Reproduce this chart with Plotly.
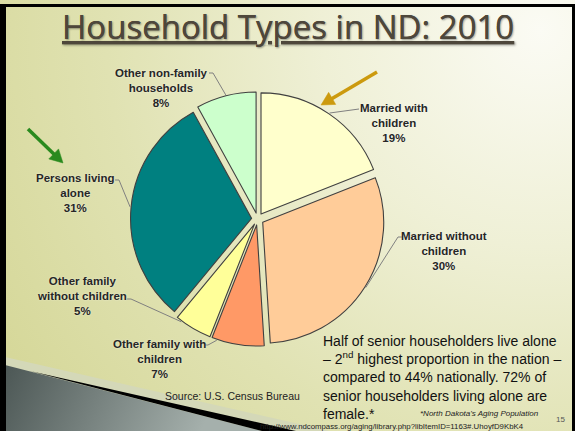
import base64
import math
import plotly.graph_objects as go

# ---------------- data ----------------
categories = ["Married with children", "Married without children", "Other family with children",
              "Other family without children", "Persons living alone", "Other non-family households"]
label_lines = [["Married with", "children"], ["Married without", "children"],
               ["Other family with", "children"], ["Other family", "without children"],
               ["Persons living", "alone"], ["Other non-family", "households"]]
values = [19, 30, 7, 5, 31, 8]
colors = ["#FFFFCC", "#FFCC99", "#FF9966", "#FFFF99", "#008080", "#CCFFCC"]
pull = 0.05

W, H = 575, 431

# ---------------- background (gradient slide + swoosh + border) ----------------
svg = """<svg xmlns="http://www.w3.org/2000/svg" width="575" height="431" viewBox="0 0 575 431">
<defs>
<radialGradient id="bg" gradientUnits="userSpaceOnUse" cx="540" cy="30" r="620">
<stop offset="0" stop-color="#FBFBF4"/>
<stop offset="0.35" stop-color="#EFF0D6"/>
<stop offset="0.7" stop-color="#E0E2B2"/>
<stop offset="1" stop-color="#D6D89A"/>
</radialGradient>
<linearGradient id="sw" gradientUnits="userSpaceOnUse" x1="0" y1="365" x2="190" y2="455">
<stop offset="0" stop-color="#4A5553"/>
<stop offset="1" stop-color="#A5B0AC"/>
</linearGradient>
</defs>
<rect width="575" height="431" fill="url(#bg)"/>
<polygon points="5,357 330,431 5,431" fill="#D4D8B8"/>
<polygon points="5,365 262,431 5,431" fill="url(#sw)"/>
<polygon points="30,371 296,431 262,431" fill="#000000"/>
<rect x="0" y="4" width="6" height="427" fill="#000000"/>
<rect x="0" y="4" width="575" height="3" fill="#000000"/>
<rect x="572" y="4" width="3" height="427" fill="#000000"/>
</svg>"""
bg_uri = "data:image/svg+xml;base64," + base64.b64encode(svg.encode()).decode()

# ---------------- pie geometry (mirrors plotly's own layout) ----------------
dom_x = [0.227, 0.669]
dom_y = [0.197, 0.787]
rx = W * (dom_x[1] - dom_x[0]) / 2
ry = H * (dom_y[1] - dom_y[0]) / 2
r = min(rx, ry) / (1 + pull)
cx = W * (dom_x[0] + dom_x[1]) / 2
cy = H * (1 - dom_y[0]) - ry
total = sum(values)


def px(x, y):
    return x / W, 1 - y / H


def slice_point(i, frac):
    a0 = sum(values[:i]) / total * 2 * math.pi
    a1 = sum(values[:i + 1]) / total * 2 * math.pi
    mid = (a0 + a1) / 2
    th = a0 + frac * (a1 - a0)
    ox, oy = pull * r * math.sin(mid), -pull * r * math.cos(mid)
    return cx + ox + (r + 1) * math.sin(th), cy + oy - (r + 1) * math.cos(th)


fig = go.Figure(go.Pie(
    labels=categories, values=values, sort=False, direction="clockwise", rotation=0,
    pull=[pull] * len(values), textinfo="none", hoverinfo="label+percent",
    marker=dict(colors=colors, line=dict(color="#404040", width=1.1)),
    domain=dict(x=dom_x, y=dom_y), showlegend=False,
))

# label centre, leader anchor near text, elbow, position along slice
label_pos = [(394, 123), (444, 251), (159, 359), (82, 296), (75, 193), (161, 88)]
anchors = [((359, 109), (359, 109)), ((402, 237), (398, 237)), ((205, 345), (208, 345)),
           ((127, 299), (131, 299)), ((115, 180), (119, 180)), ((209, 73), (213, 73))]
fracs = [0.5, 0.5, 0.9, 0.85, 0.5, 0.5]

shapes = []
annotations = []
for i in range(len(values)):
    lx, ly = label_pos[i]
    text = "<br>".join(label_lines[i] + [f"{values[i]}%"])
    ax_, ay_ = px(lx, ly)
    annotations.append(dict(x=ax_, y=ay_, xref="paper", yref="paper", text=text, showarrow=False,
                            xanchor="center", yanchor="middle", align="center",
                            font=dict(family="Liberation Sans, Arial",
                                      size=11.5, color="#262626", weight="bold",
                                      shadow="0px 0px 2px rgba(255,255,255,0.6)")))
    (a1x, a1y), (ex, ey) = anchors[i]
    tx, ty = slice_point(i, fracs[i])
    p1 = px(a1x, a1y); p2 = px(ex, ey); p3 = px(tx, ty)
    shapes.append(dict(type="path", xref="paper", yref="paper",
                       path=f"M {p1[0]} {p1[1]} L {p2[0]} {p2[1]} L {p3[0]} {p3[1]}",
                       line=dict(color="#808080", width=1)))

# title
tx_, ty_ = px(288, 27)
annotations.append(dict(x=tx_, y=ty_, xref="paper", yref="paper", showarrow=False,
                        text="<u>Household Types in ND: 2010</u>", xanchor="center", yanchor="middle",
                        font=dict(family="Open Sans", size=33, color="#4E473B",
                                  shadow="1px 1px 2px rgba(0,0,0,0.2)")))

# arrows (shaft + head as shapes)
for tip, tail, col in [((63, 163), (28, 129), "#2A8A1E"), ((321, 105), (377, 72), "#CC9A0E")]:
    dx, dy = tip[0] - tail[0], tip[1] - tail[1]
    L = math.hypot(dx, dy)
    ux, uy = dx / L, dy / L
    hl, hw = 13, 7
    bxp, byp = tip[0] - ux * hl, tip[1] - uy * hl
    p_tail = px(*tail); p_base = px(bxp + ux * 2, byp + uy * 2)
    shapes.append(dict(type="line", xref="paper", yref="paper", x0=p_tail[0], y0=p_tail[1],
                       x1=p_base[0], y1=p_base[1], line=dict(color=col, width=3.5)))
    a = px(*tip); b = px(bxp - uy * hw, byp + ux * hw); c = px(bxp + uy * hw, byp - ux * hw)
    shapes.append(dict(type="path", xref="paper", yref="paper",
                       path=f"M {a[0]} {a[1]} L {b[0]} {b[1]} L {c[0]} {c[1]} Z",
                       fillcolor=col, line=dict(color=col, width=0.5)))

# body text
bx, by = px(321, 331)
annotations.append(dict(x=bx, y=by, xref="paper", yref="paper", showarrow=False, xanchor="left",
                        yanchor="top", align="left",
                        text="Half of senior householders live alone<br>"
                             "– 2<sup>nd</sup> highest proportion in the nation –<br>"
                             "compared to 44% nationally. 72% of<br>"
                             "senior householders living alone are<br>"
                             "female.*",
                        font=dict(family="Liberation Sans, Arial", size=14, color="#111111")))

sx, sy = px(232, 396)
annotations.append(dict(x=sx, y=sy, xref="paper", yref="paper", showarrow=False, xanchor="center",
                        yanchor="middle", text="Source: U.S. Census Bureau",
                        font=dict(family="Liberation Sans, Arial", size=10.5, color="#222222")))
fx, fy = px(541, 413)
annotations.append(dict(x=fx, y=fy, xref="paper", yref="paper", showarrow=False, xanchor="right",
                        yanchor="middle", text="<i>*North Dakota's Aging Population</i>",
                        font=dict(family="Liberation Sans, Arial", size=8, color="#222222")))
ux_, uy_ = px(258, 426)
annotations.append(dict(x=ux_, y=uy_, xref="paper", yref="paper", showarrow=False, xanchor="left",
                        yanchor="middle",
                        text="http://www.ndcompass.org/aging/library.php?libItemID=1163#.UhoyfD9KbK4",
                        font=dict(family="Liberation Sans, Arial", size=7.8, color="#222222")))
nx, ny = px(560, 419)
annotations.append(dict(x=nx, y=ny, xref="paper", yref="paper", showarrow=False, xanchor="center",
                        yanchor="middle", text="15",
                        font=dict(family="Liberation Sans, Arial", size=8, color="#555555")))

fig.update_layout(
    width=W, height=H, margin=dict(l=0, r=0, t=0, b=0),
    paper_bgcolor="#E6E8C0", plot_bgcolor="rgba(0,0,0,0)",
    images=[dict(source=bg_uri, xref="paper", yref="paper", x=0, y=1, sizex=1, sizey=1,
                 xanchor="left", yanchor="top", sizing="stretch", layer="below")],
    shapes=shapes, annotations=annotations,
)

fig.write_html("out.html", config={"displayModeBar": False},
               post_script="document.body.style.margin='0';document.body.style.overflow='hidden';")
